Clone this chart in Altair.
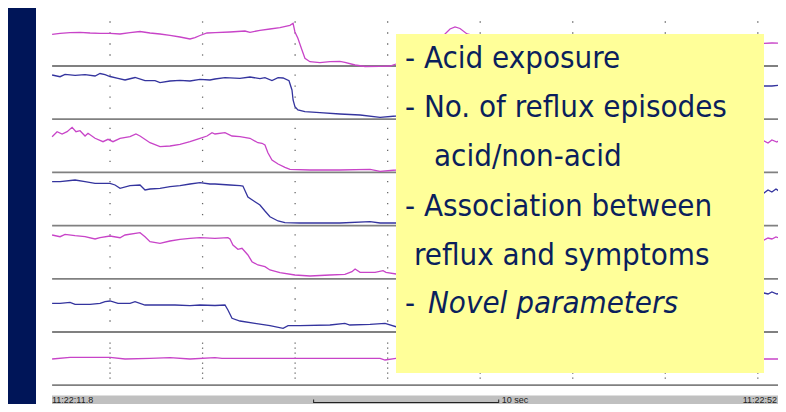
import altair as alt
import pandas as pd

# ---------------- data (time in s after 11:22:00, impedance height above channel baseline) -------------
channels = ["Z1", "Z2", "Z3", "Z4", "Z5", "Z6", "Z7"]
channel_colors = ["#c844c8", "#34349e", "#c844c8", "#34349e", "#c844c8", "#34349e", "#c844c8"]

ch1_t = [11.87, 12.30, 12.84, 13.38, 13.92, 14.46, 15.00, 15.54, 16.08, 16.62, 17.16, 17.70, 18.24, 18.78,
         19.32, 19.59, 19.86, 20.24, 20.67, 21.48, 22.29, 22.56, 23.10, 23.64, 24.18, 24.72, 24.89, 24.99,
         25.15, 25.37, 25.53, 25.80, 26.34, 26.88, 27.42, 27.69, 28.24, 28.78, 29.59, 30.13, 30.45, 31.75,
         33.10, 33.37, 33.64, 33.91, 34.29, 36.07, 41.47, 46.87, 50.33, 50.76, 51.30]
ch1_v = [31.7, 32.7, 33.3, 33.7, 33.0, 32.7, 32.7, 32.0, 33.3, 34.5, 33.0, 32.0, 30.7, 29.0,
         27.0, 28.3, 30.5, 33.0, 33.3, 34.0, 35.0, 33.7, 35.7, 37.0, 38.3, 40.7, 42.7, 34.0,
         27.7, 16.0, 7.7, 4.3, 3.3, 4.3, 4.7, 3.7, 1.0, -0.5, -0.3, 0.0, 2.0, 16.0,
         32.0, 37.0, 39.0, 37.5, 32.0, 24.0, 22.0, 23.0, 22.7, 23.0, 22.7]

ch2_t = [11.87, 12.30, 12.57, 13.11, 13.65, 14.19, 14.46, 14.73, 15.00, 15.43, 15.81, 16.35, 16.89, 17.43,
         17.70, 18.24, 18.78, 19.32, 19.86, 20.40, 20.67, 21.21, 22.02, 22.56, 23.10, 23.37, 23.75, 24.08,
         24.35, 24.67, 24.83, 24.89, 24.99, 25.15, 25.53, 26.34, 27.42, 28.51, 29.59, 30.45, 34.97, 41.47,
         50.33, 50.76, 51.30]
ch2_v = [44.2, 42.5, 44.9, 43.9, 44.5, 43.2, 45.7, 44.5, 42.7, 40.9, 39.2, 41.7, 38.5, 38.5,
         36.5, 38.2, 38.9, 38.2, 39.9, 39.2, 40.2, 41.5, 40.9, 42.2, 40.5, 41.5, 38.7, 41.5,
         41.2, 38.5, 29.2, 19.2, 12.5, 9.2, 7.5, 6.5, 5.2, 4.2, 1.9, 3.2, 24.0, 31.0,
         33.2, 33.2, 34.2]

ch3_t = [11.87, 12.14, 12.41, 12.68, 12.95, 13.16, 13.38, 13.65, 13.81, 14.19, 14.62, 14.89, 15.16, 15.54,
         16.08, 16.40, 16.62, 17.16, 17.70, 18.24, 18.78, 19.32, 19.86, 20.24, 20.51, 20.67, 21.21, 21.59,
         22.02, 22.56, 22.99, 23.21, 23.37, 23.53, 23.75, 24.08, 24.45, 24.72, 25.80, 27.42, 29.05, 29.59,
         30.45, 36.07, 50.33, 50.55, 50.76, 51.03, 51.30]
ch3_v = [35.7, 40.7, 38.4, 40.7, 45.1, 40.7, 41.7, 36.4, 39.1, 34.1, 30.7, 33.1, 30.7, 34.1,
         35.7, 38.4, 36.4, 29.7, 25.7, 26.4, 28.1, 30.7, 34.1, 36.4, 39.7, 38.4, 39.7, 36.4,
         35.7, 34.1, 29.7, 29.1, 27.4, 19.7, 12.4, 8.4, 5.1, 3.1, 2.4, 2.4, 3.1, 1.1,
         2.4, 22.0, 31.4, 29.4, 32.4, 30.4, 33.4]

ch4_t = [11.87, 12.30, 13.11, 13.65, 14.19, 15.00, 15.27, 15.54, 16.08, 16.62, 16.89, 17.16, 17.70, 18.24,
         18.78, 19.32, 19.86, 20.40, 20.67, 21.48, 22.02, 22.18, 22.45, 22.83, 23.10, 23.37, 23.64, 24.08,
         24.45, 25.26, 27.42, 29.05, 29.59, 30.45, 36.07, 50.33, 50.55, 50.76, 50.98, 51.30]
ch4_v = [43.9, 43.9, 45.6, 43.9, 42.3, 42.3, 40.6, 37.3, 39.9, 40.6, 35.6, 36.6, 37.3, 38.9,
         39.9, 41.6, 42.9, 41.6, 41.6, 40.6, 39.9, 39.6, 28.6, 23.9, 20.6, 14.6, 8.9, 4.6,
         2.9, 2.6, 2.6, 3.9, 2.6, 2.6, 25.6, 32.6, 35.6, 33.6, 36.6, 32.6]

ch5_t = [11.87, 12.30, 12.57, 13.11, 13.65, 14.19, 14.46, 15.00, 15.54, 15.81, 16.62, 16.89, 17.16, 17.70,
         18.24, 18.78, 19.32, 19.86, 20.67, 21.37, 21.48, 21.64, 21.91, 22.13, 22.45, 22.67, 22.99, 23.37,
         23.64, 24.18, 24.99, 25.80, 26.88, 27.69, 28.07, 28.24, 28.51, 29.32, 29.75, 29.91, 30.45, 36.07,
         50.33, 50.55, 50.76, 50.98, 51.30]
ch5_v = [43.8, 42.1, 44.5, 43.1, 42.1, 39.8, 41.1, 42.8, 41.1, 43.8, 46.1, 42.1, 37.1, 35.5,
         37.8, 39.5, 40.5, 41.1, 40.5, 41.1, 39.8, 33.8, 29.5, 30.5, 23.8, 17.1, 13.8, 12.1,
         8.8, 6.1, 3.8, 2.8, 3.8, 4.5, 7.1, 9.8, 6.5, 6.5, 8.1, 6.5, 4.8, 28.8,
         38.8, 40.8, 39.8, 41.8, 39.8]

ch6_t = [11.87, 12.30, 12.84, 13.11, 13.92, 14.46, 14.73, 15.00, 15.43, 16.08, 16.35, 16.89, 17.70, 18.51,
         19.32, 19.86, 20.67, 21.21, 21.37, 21.59, 22.02, 22.83, 23.64, 24.35, 24.62, 25.26, 26.88, 27.69,
         27.96, 29.05, 29.86, 30.45, 36.07, 50.33, 50.55, 50.76, 51.03, 51.30]
ch6_v = [28.7, 28.7, 29.7, 27.7, 27.7, 28.7, 30.3, 31.0, 28.7, 28.7, 30.3, 27.0, 27.0, 27.0,
         26.3, 27.0, 26.5, 27.0, 22.0, 13.7, 11.0, 8.7, 6.3, 3.7, 6.3, 6.3, 7.0, 8.7,
         7.0, 7.7, 8.7, 5.3, 32.0, 39.0, 38.0, 40.0, 38.0, 39.0]

ch7_t = [11.87, 12.84, 15.00, 15.81, 17.16, 18.24, 19.32, 20.67, 21.05, 25.26, 29.59, 29.86, 30.45, 41.47,
         50.33, 51.30]
ch7_v = [26.2, 27.9, 27.9, 26.2, 26.9, 27.5, 26.2, 27.5, 26.9, 26.9, 26.9, 25.2, 26.9, 26.7,
         26.2, 26.2]

grid_t = [15, 20, 25, 30, 35, 40, 45, 50]
dot_offsets = [11, 22, 33, 44]
dot_offsets_last = [7, 12, 17, 22, 27, 32, 37, 42]
trace_start, trace_end = 11.87, 51.30

start_label = "11:22:11.8"
end_label = "11:22:52"
scale_start, scale_len = 26.0, 10.0
scale_label = "10 sec"

box_lines = ["- Acid exposure", "- No. of reflux episodes", "acid/non-acid",
             "- Association between", "reflux and symptoms", "- "]
box_italic = "Novel parameters"

# ---------------- layout ---------------------------------------------------------------------------
SPACING = 53.2
W, H = 742, 396
NAVY = "#001558"
TEXT_NAVY = "#0b1f5c"
FONT = "'DejaVu Sans Condensed', 'Noto Sans', sans-serif"
FS = 31

all_t = [ch1_t, ch2_t, ch3_t, ch4_t, ch5_t, ch6_t, ch7_t]
all_v = [ch1_v, ch2_v, ch3_v, ch4_v, ch5_v, ch6_v, ch7_v]

rows = []
for k, (ts, vs) in enumerate(zip(all_t, all_v)):
    for t, v in zip(ts, vs):
        rows.append({"t": t, "v": v, "ch": channels[k], "k": k})
traces = pd.DataFrame(rows)
traces["y"] = traces["v"] - SPACING * traces["k"]

dots = pd.DataFrame([
    {"t": t, "y": off - SPACING * k}
    for k in range(len(channels))
    for off in (dot_offsets_last if k == len(channels) - 1 else dot_offsets)
    for t in grid_t
])

base = pd.DataFrame({"k": list(range(len(channels)))})
base["y"] = -SPACING * base["k"]
base["t"] = trace_start
base["t2"] = trace_end

xs = alt.Scale(domain=[11.0, 51.09], nice=False, zero=False)
ys = alt.Scale(domain=[-338, 58], nice=False, zero=False)

dot_layer = alt.Chart(dots).mark_square(size=1.6, color="#555555", opacity=0.9, clip=True).encode(
    x=alt.X("t:Q", scale=xs, axis=None), y=alt.Y("y:Q", scale=ys, axis=None))

base_layer = alt.Chart(base).mark_rule(color="#808080", strokeWidth=1.8, clip=True).encode(
    x=alt.X("t:Q", scale=xs, axis=None), x2="t2:Q", y=alt.Y("y:Q", scale=ys, axis=None))

trace_layer = alt.Chart(traces).mark_line(strokeWidth=1.3, clip=True).encode(
    x=alt.X("t:Q", scale=xs, axis=None),
    y=alt.Y("y:Q", scale=ys, axis=None),
    color=alt.Color("ch:N", scale=alt.Scale(domain=channels, range=channel_colors), legend=None),
    order="t:Q")

one = alt.Data(values=[{}])

box = alt.Chart(one).mark_rect(color="#ffff99").encode(
    x=alt.value(360), x2=alt.value(728), y=alt.value(26), y2=alt.value(365))

text_x = [369, 369, 398, 369, 378, 369]
text_y = [60, 109, 158, 208, 257, 305]
text_layers = []
for s, tx, ty in zip(box_lines, text_x, text_y):
    text_layers.append(alt.Chart(one).mark_text(
        text=s, align="left", baseline="alphabetic", font=FONT, fontSize=FS, color=TEXT_NAVY
    ).encode(x=alt.value(tx), y=alt.value(ty)))
text_layers.append(alt.Chart(one).mark_text(
    text=box_italic, align="left", baseline="alphabetic", font=FONT, fontSize=FS,
    fontStyle="italic", color=TEXT_NAVY).encode(x=alt.value(392), y=alt.value(305)))

bar = alt.Chart(one).mark_rect(color="#c0c0c0").encode(
    x=alt.value(16), x2=alt.value(W), y=alt.value(387.5), y2=alt.value(396))

sb = pd.DataFrame({"t": [scale_start], "t2": [scale_start + scale_len]})
scale_line = alt.Chart(sb).mark_rule(color="#222222", strokeWidth=1).encode(
    x=alt.X("t:Q", scale=xs, axis=None), x2="t2:Q", y=alt.value(394.5))
sb_ticks = pd.DataFrame({"t": [scale_start, scale_start + scale_len]})
scale_ticks = alt.Chart(sb_ticks).mark_rule(color="#222222", strokeWidth=1).encode(
    x=alt.X("t:Q", scale=xs, axis=None), y=alt.value(391.5), y2=alt.value(395))

small = dict(baseline="alphabetic", font="Liberation Sans", fontSize=9, color="#222222")
lab1 = alt.Chart(one).mark_text(text=start_label, align="left", **small).encode(
    x=alt.value(16), y=alt.value(394.5))
lab2 = alt.Chart(sb).mark_text(text=scale_label, align="left", dx=3, **small).encode(
    x=alt.X("t2:Q", scale=xs, axis=None), y=alt.value(394.5))
lab3 = alt.Chart(one).mark_text(text=end_label, align="right", **small).encode(
    x=alt.value(W - 1), y=alt.value(394.5))

chart = alt.layer(
    dot_layer, base_layer, trace_layer, box, *text_layers, bar, scale_line, scale_ticks, lab1, lab2, lab3
).properties(
    width=W, height=H,
    padding={"left": 28, "top": 0, "right": 0, "bottom": 0},
    autosize=alt.AutoSizeParams(type="none"),
    background=NAVY,
).configure_view(fill="white", stroke=None)

chart.save("out.html", embed_options={"renderer": "svg", "actions": False})
